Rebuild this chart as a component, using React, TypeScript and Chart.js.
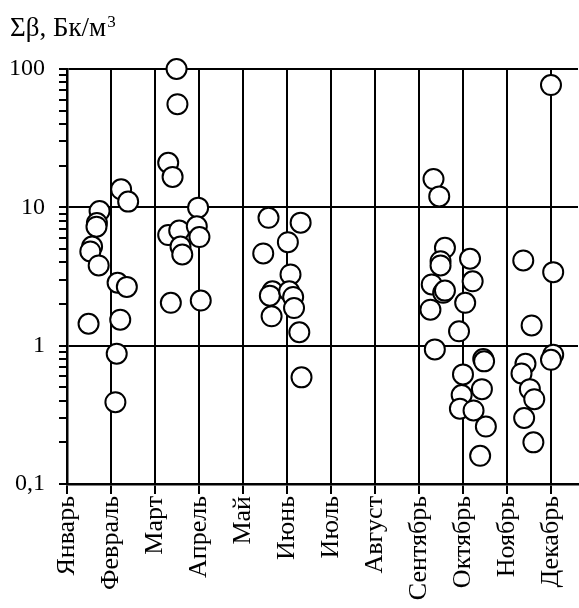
import React, { useEffect, useRef } from "react";
import { Chart, registerables } from "chart.js";

Chart.register(...registerables);

const months = ["Январь", "Февраль", "Март", "Апрель", "Май", "Июнь", "Июль", "Август", "Сентябрь", "Октябрь", "Ноябрь", "Декабрь"];
const yMajorTicks = [0.1, 1, 10, 100];
const yLabels = ["0,1", "1", "10", "100"];

// x = months since 1 January (fractional), y = Σβ, Bq/m³
const janFebX = [1.23, 1.39, 0.74, 0.68, 0.67, 0.57, 0.53, 0.72, 1.15, 1.36, 0.49, 1.21, 1.13, 1.1];
const janFebY = [13.5, 11.0, 9.4, 7.7, 7.25, 5.2, 4.8, 3.8, 2.85, 2.66, 1.44, 1.54, 0.875, 0.39];

const marAprX = [2.49, 2.51, 2.3, 2.4, 2.98, 2.3, 2.55, 2.95, 3.01, 2.58, 2.62, 2.36, 3.04];
const marAprY = [100, 55.7, 21, 16.6, 9.95, 6.3, 6.8, 7.3, 6.1, 5.2, 4.56, 2.04, 2.12];

const junX = [4.58, 5.31, 5.02, 4.46, 5.08, 4.67, 4.61, 5.05, 5.14, 5.16, 4.65, 5.28, 5.33];
const junY = [8.4, 7.75, 5.6, 4.64, 3.27, 2.47, 2.3, 2.47, 2.25, 1.87, 1.63, 1.25, 0.59];

const sepOctX = [8.33, 8.46, 8.59, 8.49, 8.49, 9.16, 8.29, 8.55, 8.59, 9.22, 9.05, 8.26, 8.91, 8.36, 9.46, 9.48, 9.0, 9.43, 8.97, 8.93, 9.24, 9.52, 9.39];
const sepOctY = [16, 12, 5.1, 4.08, 3.8, 4.25, 2.77, 2.41, 2.5, 2.92, 2.04, 1.82, 1.27, 0.94, 0.8, 0.77, 0.62, 0.485, 0.44, 0.35, 0.34, 0.26, 0.16];

const novDecX = [11.0, 10.37, 11.05, 10.56, 11.05, 11.0, 10.42, 10.33, 10.52, 10.62, 10.39, 10.6];
const novDecY = [76.6, 4.13, 3.4, 1.4, 0.86, 0.79, 0.74, 0.63, 0.485, 0.41, 0.3, 0.2];

const X_MAX = 11.614;
const FONT = "'Liberation Serif', 'Times New Roman', serif";

function pts(xs: number[], ys: number[]) {
  return xs.map((x, i) => ({ x, y: ys[i] }));
}

const titlePlugin = {
  id: "cornerTitle",
  afterDraw(chart: any) {
    const ctx = chart.ctx;
    ctx.save();
    ctx.fillStyle = "#000";
    ctx.textBaseline = "alphabetic";
    ctx.textAlign = "left";
    ctx.font = `27px ${FONT}`;
    const main = "Σβ, Бк/м";
    ctx.fillText(main, 10, 36);
    const w = ctx.measureText(main).width;
    ctx.font = `17px ${FONT}`;
    ctx.fillText("3", 10 + w + 1, 27);
    ctx.restore();
  },
};

export default function App() {
  const ref = useRef<HTMLCanvasElement>(null);
  useEffect(() => {
    let chart: any = null;
    let cancelled = false;
    const build = () => {
      if (cancelled || !ref.current) return;
      const ds = (xs: number[], ys: number[]) => ({
        data: pts(xs, ys),
        backgroundColor: "#fff",
        borderColor: "#000",
        borderWidth: 2,
        pointRadius: 10,
        pointHoverRadius: 10,
        clip: false as any,
      });
      chart = new Chart(ref.current, {
        type: "scatter",
        data: {
          datasets: [
            ds(janFebX, janFebY),
            ds(marAprX, marAprY),
            ds(junX, junY),
            ds(sepOctX, sepOctY),
            ds(novDecX, novDecY),
          ],
        },
        options: {
          animation: false,
          responsive: false,
          devicePixelRatio: 1,
          layout: { autoPadding: false, padding: { left: 0, top: 69, right: 1, bottom: 0 } },
          plugins: { legend: { display: false }, tooltip: { enabled: false } },
          scales: {
            x: {
              type: "linear",
              min: 0,
              max: X_MAX,
              bounds: "data",
              afterDataLimits(scale: any) {
                scale.min = 0;
                scale.max = X_MAX;
              },
              afterBuildTicks(scale: any) {
                scale.ticks = months.map((_, i) => ({ value: i }));
                scale.min = 0;
                scale.max = X_MAX;
              },
              afterFit(scale: any) {
                scale.height = 608 - 484;
                scale.paddingRight = 0;
                scale.paddingLeft = 0;
              },
              border: { display: true, color: "#000", width: 2.5 },
              grid: { color: "#000", lineWidth: 2, tickLength: 10, tickColor: "#000", drawOnChartArea: true },
              ticks: {
                autoSkip: false,
                minRotation: 90,
                maxRotation: 90,
                padding: 2,
                color: "#000",
                font: { family: FONT, size: 26 },
                callback: (v: any) => months[Math.round(Number(v))] ?? "",
              },
            },
            y: {
              type: "logarithmic",
              min: 0.1,
              max: 100,
              afterBuildTicks(scale: any) {
                const t: any[] = [];
                for (let d = 0; d < yMajorTicks.length; d++) {
                  const base = yMajorTicks[d];
                  t.push({ value: base, major: true });
                  if (d < yMajorTicks.length - 1) {
                    for (let k = 2; k <= 9; k++) t.push({ value: Math.round(base * k * 1000) / 1000 });
                  }
                }
                scale.ticks = t;
              },
              afterFit(scale: any) {
                scale.width = 67;
                scale.paddingTop = 0;
                scale.paddingBottom = 0;
              },
              border: { display: true, color: "#000", width: 2.5 },
              grid: {
                color: (c: any) => (yMajorTicks.includes(c.tick?.value) ? "#000" : "rgba(0,0,0,0)"),
                tickColor: "#000",
                lineWidth: 2,
                tickLength: 8,
              },
              ticks: {
                autoSkip: false,
                padding: 14,
                color: "#000",
                font: { family: FONT, size: 24 },
                callback: (v: any) => {
                  const i = yMajorTicks.indexOf(Number(v));
                  return i >= 0 ? yLabels[i] : "";
                },
              },
            },
          },
        },
        plugins: [titlePlugin],
      });
    };
    const fontsApi: any = (document as any).fonts;
    if (fontsApi && fontsApi.load) {
      Promise.all([
        fontsApi.load(`24px "Liberation Serif"`, "Январь 0,1 Σβ"),
        fontsApi.load(`27px "Liberation Serif"`, "Σβ, Бк/м"),
      ])
        .catch(() => null)
        .then(build);
    } else {
      build();
    }
    return () => {
      cancelled = true;
      if (chart) chart.destroy();
    };
  }, []);
  return (
    <div style={{ position: "absolute", left: 0, top: 0, width: 579, height: 608, background: "#fff" }}>
      <canvas ref={ref} width={579} height={608} style={{ display: "block" }} />
    </div>
  );
}
